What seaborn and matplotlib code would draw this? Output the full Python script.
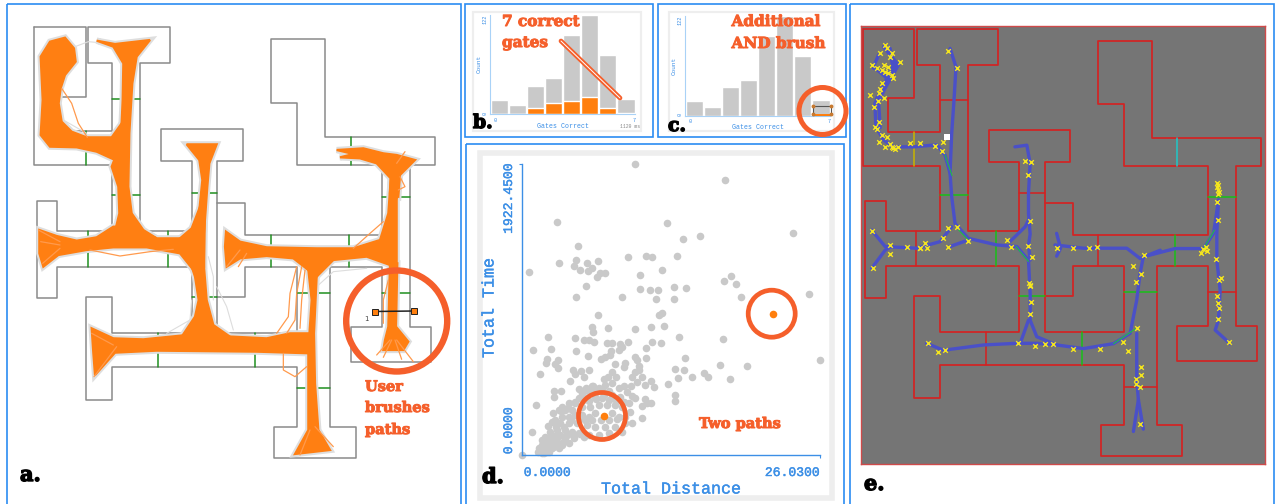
import matplotlib
matplotlib.use('Agg')
import matplotlib.pyplot as plt
from matplotlib.patches import Circle, Rectangle
from matplotlib.patheffects import withStroke
import seaborn as sns

sns.set_theme(style='white')

W, H = 1275, 504
ACCENT = '#f55f2b'
BLUE = '#2b8cf2'
MONO = 'Liberation Mono'
SLAB = 'DejaVu Serif'

# maze walls, same coordinates for panel a and panel e
walls = [
    [(102, 82), (257, 82), (257, 291), (180, 291), (180, 392), (335, 392), (335, 190), (265, 190), (265, 82),
     (511, 82), (511, 190), (419, 190), (419, 692), (575, 692), (575, 484), (483, 484), (483, 387), (729, 387),
     (729, 484), (652, 484), (652, 998), (891, 998), (891, 800), (736, 800), (736, 890), (652, 890)],
    [(652, 609), (736, 609), (736, 705), (1145, 705), (1145, 495), (891, 495), (891, 309), (814, 309), (814, 118),
     (975, 118), (975, 411), (1306, 411), (1306, 495), (1229, 495), (1229, 980), (1292, 980), (1292, 1087),
     (1053, 1087), (1053, 980), (1145, 980), (1145, 800), (990, 800), (990, 1280), (1067, 1280), (1067, 1375),
     (821, 1375), (821, 1280), (891, 1280), (891, 1100), (335, 1100), (335, 1200), (258, 1200), (258, 890),
     (335, 890), (335, 998), (575, 998), (575, 800), (172, 800), (172, 895), (110, 895), (110, 603), (172, 603),
     (172, 692), (335, 692), (335, 495), (102, 495), (102, 82)],
]
gates = [
    [(257, 392), (257, 495)], [(335, 297), (419, 297)], [(335, 584), (419, 584)], [(264, 692), (264, 800)],
    [(504, 692), (504, 800)], [(575, 578), (652, 578)], [(575, 890), (652, 890)], [(813, 705), (813, 800)],
    [(1046, 705), (1046, 800)], [(891, 878), (990, 878)], [(1145, 590), (1229, 590)], [(1145, 878), (1229, 878)],
    [(475, 998), (475, 1100)], [(765, 998), (765, 1100)], [(891, 1165), (990, 1165)], [(1053, 411), (1053, 495)],
]
gate_colors_e = ['#c8b400', '#d62020', '#18c018', '#d62020', '#18c018', '#d62020', '#18c018', '#d62020',
                 '#18c018', '#18c018', '#18c018', '#d62020', '#d62020', '#18c018', '#d62020', '#20c8c8']

# orange bundles of panel a, traced by hand
bundles = [
    [(150, 125), (195, 113), (222, 145), (227, 185), (195, 225), (182, 265), (176, 310), (185, 365), (215, 395),
     (260, 412), (335, 412), (365, 370), (385, 400), (385, 470), (345, 480), (290, 455), (230, 442), (150, 440),
     (122, 405), (128, 300), (122, 170)],
    [(290, 122), (345, 132), (450, 120), (410, 170), (397, 250), (388, 400), (385, 560), (395, 640), (430, 690),
     (470, 715), (340, 715), (358, 640), (355, 560), (335, 500), (362, 430), (368, 300), (370, 190), (340, 140)],
    [(118, 690), (170, 708), (230, 722), (290, 712), (340, 680), (400, 680), (470, 715), (540, 715), (610, 700),
     (612, 800), (580, 810), (540, 760), (440, 742), (340, 742), (260, 750), (175, 765), (130, 800), (118, 760)],
    [(560, 433), (650, 433), (628, 490), (622, 560), (612, 700), (612, 800), (620, 900), (640, 975), (690, 1010),
     (600, 1030), (545, 1010), (585, 950), (596, 900), (585, 830), (575, 800), (597, 640), (607, 540), (598, 480)],
    [(540, 715), (575, 685), (600, 620), (615, 620), (612, 800), (575, 790), (560, 760)],
    [(275, 985), (340, 1015), (430, 1018), (560, 1005), (700, 1010), (800, 1015), (870, 1000), (930, 1000),
     (930, 1060), (770, 1055), (470, 1052), (345, 1058), (285, 1125), (280, 1060)],
    [(915, 800), (985, 770), (950, 830), (942, 1000), (945, 1150), (955, 1290), (990, 1350), (885, 1362),
     (925, 1290), (925, 1150), (925, 1050), (935, 900), (925, 810)],
    [(678, 695), (720, 725), (800, 742), (950, 745), (1060, 745), (1140, 720), (1165, 640), (1172, 540), (1180, 500),
     (1200, 500), (1190, 600), (1190, 790), (1170, 795), (1100, 770), (1000, 780), (950, 830), (925, 810), (880, 775),
     (800, 768), (720, 775), (680, 800), (675, 740)],
    [(1010, 450), (1090, 445), (1150, 460), (1190, 465), (1245, 480), (1200, 525), (1195, 590), (1170, 580),
     (1172, 535), (1130, 490), (1080, 475), (1020, 472), (1060, 462)],
    [(1170, 790), (1192, 790), (1188, 980), (1225, 1025), (1210, 1050), (1150, 1050), (1155, 1020), (1165, 980)],
]
orange_strands = [
    [(185, 265), (215, 310), (235, 370), (262, 412)],
    [(890, 800), (870, 880), (865, 950), (830, 1000)],
    [(905, 800), (890, 880), (885, 960), (860, 1000)],
    [(915, 810), (905, 900), (900, 985)],
    [(850, 1060), (850, 1110), (885, 1130), (920, 1100)],
    [(1060, 745), (1110, 700), (1150, 665)],
    [(270, 750), (360, 768), (450, 755), (520, 748)],
    [(1165, 840), (1150, 900), (1150, 970)],
    [(1200, 530), (1215, 560), (1195, 570)],
    [(1170, 1020), (1130, 1065)],
    [(1175, 1020), (1150, 1072)],
    [(1185, 1020), (1205, 1078)],
    [(1190, 1020), (1240, 1085)],
    [(180, 725), (115, 690)],
    [(180, 735), (122, 725)],
    [(180, 745), (128, 790)],
    [(720, 750), (680, 800)],
    [(740, 760), (715, 800)],
    [(340, 1035), (275, 1000)],
    [(350, 1040), (282, 1130)],
    [(945, 1280), (1000, 1340)],
    [(930, 1290), (900, 1365)],
    [(1190, 490), (1215, 455)],
]
gray_strands = [
    [(180, 300), (190, 360), (260, 400)],
    [(625, 770), (640, 830), (640, 900)],
    [(650, 860), (680, 920), (700, 990)],
    [(575, 900), (570, 960), (500, 1000)],
    [(1100, 805), (1000, 815), (950, 860)],
    [(225, 140), (265, 125), (320, 130)],
]

# blue paths and yellow crosses of panel e
blue_paths = [
    [(170, 130), (200, 185), (185, 225), (159, 266), (139, 306), (142, 377), (165, 417), (195, 438), (255, 438),
     (326, 432), (351, 463), (366, 518), (371, 589), (381, 670), (421, 715), (507, 735), (568, 740), (603, 781),
     (608, 882), (608, 963), (628, 1013), (688, 1038), (769, 1049), (860, 1034), (910, 1003), (930, 902), (940, 822),
     (950, 771), (1046, 746), (1132, 746), (1162, 700), (1177, 599)],
    [(165, 135), (210, 190), (170, 260), (150, 300), (155, 380)],
    [(150, 160), (135, 195), (175, 230), (150, 285)],
    [(185, 140), (195, 215), (170, 250), (145, 290)],
    [(135, 200), (190, 225), (210, 185)],
    [(366, 140), (384, 196), (378, 296), (371, 397), (366, 518)],
    [(562, 438), (598, 433), (608, 488), (603, 579), (603, 640), (608, 702), (603, 737), (608, 781)],
    [(603, 660), (593, 680), (547, 725)],
    [(129, 690), (170, 740), (265, 745), (336, 725), (371, 680)],
    [(129, 806), (170, 751), (185, 741)],
    [(366, 740), (421, 720)],
    [(683, 735), (769, 745), (900, 745), (940, 776), (1001, 751)],
    [(688, 700), (700, 745), (688, 769)],
    [(1177, 599), (1172, 700), (1172, 781), (1182, 872), (1177, 963), (1167, 993), (1212, 1034)],
    [(295, 1033), (346, 1054), (467, 1038), (568, 1033), (628, 1033), (688, 1038)],
    [(578, 1033), (603, 963)],
    [(930, 1003), (930, 1143), (935, 1204), (920, 1300)],
    [(935, 1204), (950, 1293)],
]
green_paths = [
    [(351, 463), (372, 525)],
    [(1132, 746), (1165, 690)],
    [(565, 740), (603, 785)],
    [(860, 1034), (925, 990)],
    [(392, 690), (421, 720)],
]
cross_x = [170, 190, 155, 215, 130, 170, 190, 160, 150, 125, 165, 137, 150, 140, 160, 150, 170, 190, 245, 275, 320,
           341, 361, 388, 345, 130, 185, 185, 133, 235, 275, 290, 361, 346, 361, 388, 421, 537, 550, 592, 612, 602,
           607, 602, 614, 607, 610, 607, 570, 622, 652, 677, 738, 818, 904, 931, 889, 919, 944, 929, 952, 690, 738,
           786, 809, 1130, 1142, 1170, 1185, 1175, 1175, 1210, 1175, 1173, 1175, 1175, 943, 928, 940, 940, 300, 330,
           351,
           175, 185, 165, 145, 178, 195, 160, 180, 147, 155, 145, 175, 195, 185, 200, 210, 275, 295, 1172, 1178,
           1176, 1173, 1178, 1172, 1178, 1138, 1125, 608, 605, 928, 942]
cross_y = [129, 153, 155, 180, 190, 210, 220, 246, 276, 281, 291, 316, 362, 377, 402, 422, 438, 438, 427, 425, 435,
           450, 147, 200, 422, 692, 735, 761, 806, 742, 745, 730, 740, 713, 683, 681, 722, 721, 741, 481, 485, 523,
           663, 738, 771, 857, 907, 945, 1033, 1040, 1036, 1036, 1049, 1049, 1056, 988, 1029, 799, 823, 847, 766,
           745, 745, 745, 742, 746, 753, 779, 836, 912, 958, 1028, 660, 604, 554, 569, 1106, 1142, 1165, 1278, 1033,
           1059, 1054,
           140, 165, 190, 200, 195, 228, 205, 215, 300, 262, 385, 408, 440, 430, 445, 438, 745, 745, 560, 575,
           582, 548, 840, 890, 925, 742, 758, 860, 850, 1155, 1130]

# histograms b and c
gate_bins = [0, 1, 2, 3, 4, 5, 6, 7]
count_all = [18, 11, 35, 44, 98, 122, 73, 19]
count_brushed = [0, 0, 8, 14, 16, 21, 8, 2]

# scatter d
total_distance = [9.88, 17.78, 3.09, 12.65, 23.70, 15.54, 14.08, 4.87, 10.84, 11.34, 13.53, 9.24, 4.69, 6.62, 3.21,
                  5.71, 4.58, 6.12, 5.10, 5.77, 12.24, 0.58, 7.29, 6.85, 6.53, 10.32, 18.25, 17.66, 18.69, 5.60,
                  13.32, 14.37, 10.29, 11.22, 11.89, 4.75, 8.77, 11.72, 13.26, 19.18, 25.10, 12.24, 11.95, 6.68,
                  6.15, 6.18, 7.49, 9.91, 11.25, 12.42, 13.76, 2.27, 4.63, 5.42, 5.89, 6.33, 17.55, 11.40, 12.18,
                  9.27, 7.40, 7.90, 8.57, 8.75, 10.81, 0.99, 2.51, 4.72, 7.75, 7.72, 8.51, 5.74, 7.23, 6.94, 9.91,
                  10.06, 10.84, 14.28, 2.22, 2.10, 3.12, 2.92, 3.12, 8.10, 8.98, 8.95, 10.20, 26.03, 17.29, 19.65,
                  13.41, 14.14, 15.89, 16.24, 14.90, 13.67, 18.19, 1.57, 4.46, 5.19, 5.86, 4.66, 5.39, 4.23, 7.87,
                  7.52, 7.14, 8.22, 9.91, 10.20, 9.62, 10.49, 11.25, 10.06, 10.79, 11.51, 12.74, 13.41, 13.35,
                  10.73, 11.31, 10.52, 10.93, 9.91, 10.49, 2.77, 3.44, 2.77, 1.22, 0.85, 0.03,
                  6.12, 6.70, 7.29, 7.87, 8.45, 9.18, 5.83, 5.25, 4.96, 5.68, 6.41, 7.14, 7.87, 8.60, 9.33, 4.66,
                  4.08, 3.50, 3.21, 3.79, 4.37, 5.25, 5.98, 6.70, 7.43, 8.16, 8.75, 9.47, 9.62, 9.04, 8.45, 7.87,
                  6.41, 5.83, 5.25, 4.66, 4.08, 3.50, 2.92, 2.62, 3.35, 4.08, 4.81, 5.68, 6.41, 7.29, 8.16, 8.75,
                  7.58, 6.70, 5.83, 4.96, 4.37, 3.79, 3.06, 2.48, 2.04, 1.75, 2.33, 3.06, 3.79, 4.52, 5.39, 1.75,
                  2.33, 2.92, 3.50, 4.08, 1.60, 2.04, 2.62, 3.21, 1.75, 2.19,
                  2.7, 3.4, 4.0, 4.6, 5.3, 5.9, 6.5, 7.0, 7.6, 8.2, 8.9, 9.6, 3.0, 3.7, 4.3, 5.0, 5.5, 6.1, 6.9, 7.6,
                  8.3, 9.0, 2.3, 2.8, 3.3, 3.9, 4.5, 5.1, 1.9, 2.5, 3.0, 3.6, 1.5, 2.1, 2.7, 1.4, 1.9, 2.4, 6.4, 7.0,
                  7.6, 5.0, 5.6, 6.2, 8.9, 9.5]
total_time = [1925, 1819, 1538, 1536, 1467, 1450, 1426, 1382, 1313, 1311, 1313, 1307, 1291, 1280, 1269, 1267, 1252,
              1236, 1223, 1214, 1225, 1210, 1206, 1206, 1177, 1192, 1181, 1148, 1131, 1120, 1113, 1104, 1098, 1091,
              1091, 1047, 1045, 1032, 1034, 1047, 1065, 939, 924, 928, 847, 812, 840, 834, 847, 856, 783, 781, 772,
              763, 761, 746, 766, 746, 744, 750, 739, 739, 735, 713, 708, 693, 702, 691, 689, 662, 695, 658, 651,
              636, 651, 629, 640, 640, 634, 612, 629, 603, 574, 601, 607, 585, 590, 627, 598, 590, 570, 563, 546,
              519, 515, 508, 502, 535, 563, 557, 561, 537, 515, 493, 552, 515, 504, 515, 548, 563, 515, 515, 493,
              486, 464, 449, 469, 398, 359, 374, 343, 326, 348, 376, 244, 427, 425, 383, 334, 152, 4,
              458, 442, 464, 475, 442, 420, 420, 409, 376, 376, 387, 398, 398, 387, 343, 343, 343, 321, 299, 299,
              299, 321, 321, 332, 332, 332, 321, 288, 211, 211, 255, 277, 277, 255, 266, 266, 255, 255, 233, 222,
              211, 211, 211, 200, 189, 189, 189, 156, 145, 134, 134, 145, 156, 167, 167, 156, 123, 101, 112, 112,
              112, 112, 119, 68, 68, 68, 68, 79, 35, 35, 46, 46, 18, 24,
              280, 290, 310, 355, 365, 360, 370, 375, 365, 365, 355, 390, 190, 190, 235, 240, 230, 235, 230, 235,
              240, 255, 195, 130, 135, 135, 135, 140, 90, 90, 90, 90, 50, 50, 55, 22, 18, 25, 430, 430, 425, 440,
              445, 455, 460, 455]
selected_distance = [7.14, 21.92]
selected_time = [260, 933]


def px_axes(fig, left, top, right, bottom):
    return fig.add_axes([left / W, 1 - bottom / H, (right - left) / W, (bottom - top) / H])


def plot_line(ax, pts, **kw):
    ax.plot([p[0] for p in pts], [p[1] for p in pts], **kw)


def draw_hist(ax, brushed):
    sns.barplot(x=gate_bins, y=count_all, color='#c9c9c9', saturation=1, width=0.95, ax=ax)
    if brushed:
        sns.barplot(x=gate_bins, y=count_brushed, color='#ff7f0e', saturation=1, width=0.95, ax=ax)
    ax.set_ylim(0, 122)
    ax.set_xlim(-0.5, 7.5)
    ax.set_xticks([])
    ax.set_yticks([])
    ax.patch.set_alpha(0)
    for side in ['top', 'right']:
        ax.spines[side].set_visible(False)
    for side in ['left', 'bottom']:
        ax.spines[side].set_color('#a9d2f7')
        ax.spines[side].set_linewidth(0.8)


fig = plt.figure(figsize=(W / 100, H / 100), dpi=100, facecolor='white')

# a: maze with brushed paths
ax_a = px_axes(fig, 0, 0, 460, 504)
ax_a.set_xlim(0, 1380)
ax_a.set_ylim(1512, 0)
ax_a.axis('off')
for pts in walls:
    plot_line(ax_a, pts, color='#8a8a8a', lw=1.1, zorder=2)
for pts in gates:
    plot_line(ax_a, pts, color='#1f8f1f', lw=1.1, zorder=2)
for pts in gray_strands:
    plot_line(ax_a, pts, color='#dddddd', lw=0.8, zorder=3)
for pts in bundles:
    ax_a.fill([p[0] for p in pts], [p[1] for p in pts], facecolor='none', edgecolor='#dedede', lw=4.5, zorder=3)
for pts in bundles:
    ax_a.fill([p[0] for p in pts], [p[1] for p in pts], facecolor='#ff7f12', edgecolor='#ff7f12', lw=1.6, zorder=4)
for pts in orange_strands:
    plot_line(ax_a, pts, color='#ff9a4d', lw=0.9, zorder=5)

# e: same maze, dark background
ax_e = px_axes(fig, 861, 26, 1264.5, 463.5)
ax_e.set_facecolor('#757575')
ax_e.set_xlim(97, 1316)
ax_e.set_ylim(1397, 72)
ax_e.set_xticks([])
ax_e.set_yticks([])
for side in ax_e.spines.values():
    side.set_color('#cf4a4a')
    side.set_linewidth(1)
for pts in walls:
    plot_line(ax_e, pts, color='#cf2626', lw=1.3, zorder=2)
for pts, col in zip(gates, gate_colors_e):
    plot_line(ax_e, pts, color=col, lw=1.1, zorder=2)
for pts in blue_paths:
    plot_line(ax_e, pts, color='#4a50c8', lw=2.4, zorder=3, solid_capstyle='round')
for pts in green_paths:
    plot_line(ax_e, pts, color='#22c040', lw=0.8, zorder=3)
sns.scatterplot(x=cross_x, y=cross_y, marker='x', color='#f5e61e', s=11, linewidth=1, ax=ax_e, zorder=4)
sns.scatterplot(x=[356], y=[407], marker='s', color='white', s=16, linewidth=0, ax=ax_e, zorder=5)

# b, c: histograms
ax_b = px_axes(fig, 490.3, 15, 635, 114.3)
draw_hist(ax_b, True)
ax_c = px_axes(fig, 685.3, 16, 830, 115.7)
draw_hist(ax_c, False)

# d: scatter
ax_d = px_axes(fig, 522, 164, 819.7, 455.3)
sns.scatterplot(x=total_distance, y=total_time, color='#c9c9c9', s=30, linewidth=0, ax=ax_d, clip_on=False, zorder=2)
sns.scatterplot(x=selected_distance, y=selected_time, color='#ff7f0e', s=30, linewidth=0, ax=ax_d, clip_on=False,
                zorder=3)
ax_d.set_xlim(0, 26.03)
ax_d.set_ylim(0, 1922.45)
ax_d.set_xticks([26.03])
ax_d.set_yticks([1922.45])
ax_d.set_xticklabels([])
ax_d.set_yticklabels([])
ax_d.tick_params(length=2, width=0.8, color='#3c8fe6', bottom=True, left=True)
ax_d.patch.set_alpha(0)
for side in ['top', 'right']:
    ax_d.spines[side].set_visible(False)
for side in ['left', 'bottom']:
    ax_d.spines[side].set_color('#3c8fe6')
    ax_d.spines[side].set_linewidth(1)

# frames, circles and labels go on one pixel overlay
ov = fig.add_axes([0, 0, 1, 1], zorder=10)
ov.set_xlim(0, W)
ov.set_ylim(H, 0)
ov.axis('off')
ov.patch.set_alpha(0)

panel_boxes = [(6.5, 4, 461, 506), (465, 4, 652.5, 137), (658, 4, 846, 137), (466, 143.5, 844, 506), (850, 4, 1274, 506)]
for x0, y0, x1, y1 in panel_boxes:
    ov.add_patch(Rectangle((x0, y0), x1 - x0, y1 - y0, fill=False, edgecolor=BLUE, lw=1.2))

light_boxes = [(473, 12, 641, 131), (669, 12, 834, 131), (480.3, 153, 831.5, 498)]
for (x0, y0, x1, y1), lw in zip(light_boxes, [1.6, 1.6, 4]):
    ov.add_patch(Rectangle((x0, y0), x1 - x0, y1 - y0, fill=False, edgecolor='#eeeeee', lw=lw, zorder=0))

accent_circles = [(396.7, 321, 50.5, 4.6), (822.5, 111, 23.5, 3.6), (602, 416, 23.5, 3.4), (771.7, 313.7, 23.5, 3.4)]
for cx, cy, r, lw in accent_circles:
    ov.add_patch(Circle((cx, cy), r, fill=False, edgecolor=ACCENT, lw=lw))

# brush handles in a
ov.plot([374.5, 413.5], [311.5, 311], color='#222222', lw=1.1)
ov.plot([374.5, 413.5], [311.5, 311], ls='none', marker='s', ms=4.6, mfc='#ff7f0e', mec='#222222', mew=0.7)
ov.text(366.5, 319, '1', fontsize=5, color='#444444', ha='center', va='center')

# brush box in c
ov.add_patch(Rectangle((813, 106), 18, 9, fill=False, edgecolor='#555555', lw=0.8))
ov.plot([813, 831], [114.5, 114.5], color='#ff7f0e', lw=1.4)
ov.plot([813, 831, 813, 831], [106, 106, 114, 114], ls='none', marker='o', ms=1.8, color='#c87a30')

# line in b
ov.plot([561, 620], [41, 98], color=ACCENT, lw=3.4, solid_capstyle='round')
ov.plot([561, 620], [41, 98], color='white', lw=0.7, solid_capstyle='round')

slab = dict(family=SLAB, fontweight='bold', color=ACCENT, ha='left', va='center',
            path_effects=[withStroke(linewidth=0.7, foreground=ACCENT)])
for x, y, s, size in [(365, 387, 'User', 10.5), (365, 408, 'brushes', 10.5), (365, 430, 'paths', 10.5),
                      (502, 22, '7 correct', 11), (502, 43, 'gates', 11),
                      (731.5, 22, 'Additional', 11), (731.5, 44, 'AND brush', 11),
                      (699, 424, 'Two paths', 10.5)]:
    ov.text(x, y, s, fontsize=size, **slab)

for x, y, s, size in [(20, 475, 'a.', 15), (473, 123, 'b.', 13.5), (668, 126, 'c.', 13.5), (482, 477, 'd.', 15),
                      (864, 484, 'e.', 15)]:
    ov.text(x, y, s, fontsize=size, family=SLAB, fontweight='bold', color='black', ha='left', va='center',
            path_effects=[withStroke(linewidth=1, foreground='black')])

mono_blue = dict(family=MONO, color='#3c8fe6', ha='center', va='center')
thick = [withStroke(linewidth=0.3, foreground='#3c8fe6')]
ov.text(671, 489, 'Total Distance', fontsize=12, path_effects=thick, **mono_blue)
ov.text(489, 308, 'Total Time', fontsize=12, rotation=90, path_effects=thick, **mono_blue)
ov.text(547, 473, '0.0000', fontsize=9.4, path_effects=thick, **mono_blue)
ov.text(792, 473, '26.0300', fontsize=9.4, path_effects=thick, **mono_blue)
ov.text(509, 431, '0.0000', fontsize=9.4, rotation=90, path_effects=thick, **mono_blue)
ov.text(509, 199, '1922.4500', fontsize=9.4, rotation=90, path_effects=thick, **mono_blue)

# small axis text on histograms
for dx, dy in [(0, 0), (195, 1.5)]:
    ov.text(563 + dx, 126 + dy, 'Gates Correct', fontsize=4.8, **mono_blue)
    ov.text(479 + dx, 64 + dy, 'Count', fontsize=4.4, rotation=90, **mono_blue)
    ov.text(485 + dx, 19 + dy, '122', fontsize=3.8, rotation=90, **mono_blue)
    ov.text(485 + dx, 113 + dy, '0', fontsize=3.8, rotation=90, **mono_blue)
    ov.text(495.5 + dx, 120 + dy, '0', fontsize=3.8, **mono_blue)
    ov.text(634 + dx, 120 + dy, '7', fontsize=3.8, **mono_blue)
ov.text(630, 126.5, '1120 ms', fontsize=3.4, family=MONO, color='#888888', ha='center', va='center')

fig.savefig('out.png', dpi=100)
